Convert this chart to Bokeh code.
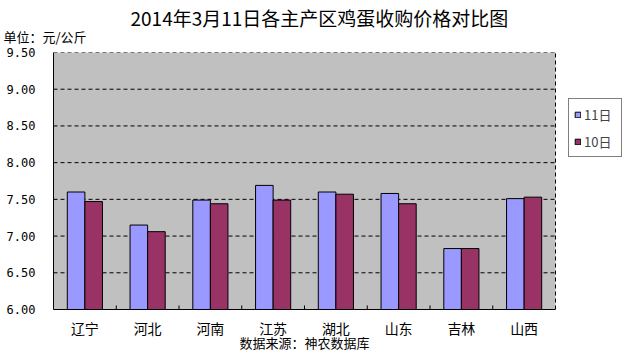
from bokeh.plotting import figure
from bokeh.models import (ColumnDataSource, FixedTicker, Legend, LegendItem, Title, Range1d)
from bokeh.transform import dodge
from bokeh.embed import file_html
from bokeh.resources import INLINE

categories = ["辽宁", "河北", "河南", "江苏", "湖北", "山东", "吉林", "山西"]
price_11 = [7.60, 7.15, 7.49, 7.69, 7.60, 7.58, 6.83, 7.51]
price_10 = [7.47, 7.06, 7.44, 7.49, 7.57, 7.44, 6.83, 7.53]
y_ticks = [6.0, 6.5, 7.0, 7.5, 8.0, 8.5, 9.0, 9.5]
title_text = "2014年3月11日各主产区鸡蛋收购价格对比图"
unit_text = "单位：元/公斤"
source_text = "数据来源：神农数据库"

n = len(categories)
xi = [i + 0.5 for i in range(n)]
src = ColumnDataSource(dict(x=xi, p11=price_11, p10=price_10, base=[y_ticks[0]] * n))

# plot area spans 502px for the categories; the frame extends to the right edge to hold the legend
W, H = 624, 356
left_b, top_b, bottom_b = 53, 52, 47
frame_w = W - left_b
x_end = n * frame_w / 502.0

p = figure(width=W, height=H, output_backend="svg", toolbar_location=None, title=None,
           x_range=Range1d(0, x_end), y_range=Range1d(y_ticks[0], y_ticks[-1]),
           min_border_left=left_b, min_border_right=0, min_border_top=top_b,
           min_border_bottom=bottom_b)
p.background_fill_color = "white"
p.border_fill_color = "white"
p.outline_line_color = None
p.xgrid.grid_line_color = None
p.ygrid.grid_line_color = None

# gray plot area
p.quad(left=[0], right=[n], bottom=[y_ticks[0]], top=[y_ticks[-1]],
       fill_color="#C0C0C0", line_color=None)
# dashed gridlines and right border
gl = y_ticks[1:]
p.segment(x0=[0] * len(gl), x1=[n] * len(gl), y0=gl, y1=gl,
          line_color="black", line_width=1, line_dash="4 3")
p.segment(x0=[n], x1=[n], y0=[y_ticks[0]], y1=[y_ticks[-1]],
          line_color="black", line_width=1, line_dash="4 3")

r11 = p.vbar(x=dodge("x", -0.14, range=p.x_range), top="p11", bottom="base", width=0.28,
             source=src, fill_color="#9999FF", line_color="black", line_width=1)
r10 = p.vbar(x=dodge("x", 0.14, range=p.x_range), top="p10", bottom="base", width=0.28,
             source=src, fill_color="#993366", line_color="black", line_width=1)

# small category-boundary ticks
bx = list(range(1, n))
p.segment(x0=bx, x1=bx, y0=[y_ticks[0]] * len(bx), y1=[y_ticks[0] + 0.055] * len(bx),
          line_color="black", line_width=1)

p.yaxis.ticker = FixedTicker(ticks=y_ticks)
p.yaxis.major_label_overrides = {t: f"{t:.2f}" for t in y_ticks}
p.yaxis.major_tick_out = 0
p.yaxis.major_tick_in = 0
p.yaxis.minor_tick_out = 0
p.yaxis.minor_tick_in = 0
p.yaxis.major_label_standoff = 18
p.yaxis.major_label_text_font = "DejaVu Sans Mono"
p.yaxis.major_label_text_font_size = "12px"
p.yaxis.major_label_text_color = "black"
p.yaxis.axis_line_color = "black"

p.xaxis.bounds = (0, n)
p.xaxis.ticker = FixedTicker(ticks=xi)
p.xaxis.major_label_overrides = {x: c for x, c in zip(xi, categories)}
p.xaxis.major_tick_out = 0
p.xaxis.major_tick_in = 0
p.xaxis.minor_tick_out = 0
p.xaxis.minor_tick_in = 0
p.xaxis.major_label_standoff = 8
p.xaxis.major_label_text_font = "Noto Sans CJK SC"
p.xaxis.major_label_text_font_size = "14px"
p.xaxis.major_label_text_line_height = 1.0
p.xaxis.major_label_text_color = "black"
p.xaxis.axis_line_color = "black"

legend = Legend(items=[LegendItem(label="11日", renderers=[r11]),
                       LegendItem(label="10日", renderers=[r10])],
                location=(515, 152), border_line_color="black", border_line_width=1,
                background_fill_color="white", background_fill_alpha=1.0,
                label_text_font="Noto Sans CJK SC", label_text_font_size="13px",
                glyph_width=7, glyph_height=7, label_height=20, label_width=32,
                spacing=7, padding=5, margin=0, label_standoff=3)
p.add_layout(legend)

p.add_layout(Title(text=unit_text, align="left", offset=-50, standoff=14,
                   text_font="Noto Sans CJK SC", text_font_size="13px", text_line_height=1.0,
                   text_font_style="normal", text_color="black"), "above")
p.add_layout(Title(text=title_text, align="left", offset=77, standoff=-26,
                   text_font="Noto Sans CJK SC", text_font_size="19px", text_line_height=1.0,
                   text_font_style="normal", text_color="black"), "above")
p.add_layout(Title(text=source_text, align="left", offset=186, standoff=-20,
                   text_font="Noto Sans CJK SC", text_font_size="13px", text_line_height=1.0,
                   text_font_style="normal", text_color="black"), "below")

open("out.html", "w").write(file_html(p, INLINE))
